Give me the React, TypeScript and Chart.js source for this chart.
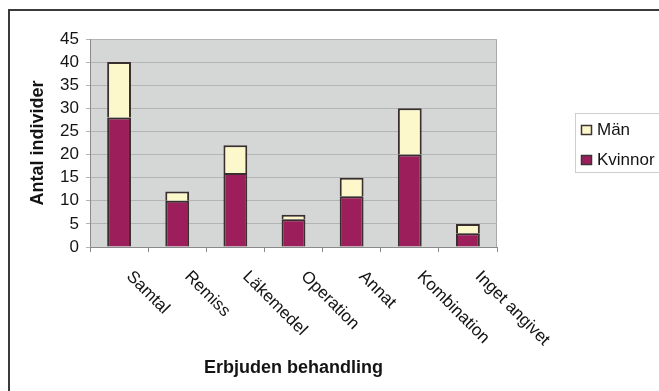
import React, { useEffect, useRef } from "react";
import { Chart, registerables } from "chart.js";

Chart.register(...registerables);

const categories = ["Samtal", "Remiss", "Läkemedel", "Operation", "Annat", "Kombination", "Inget angivet"];
const kvinnor = [28, 10, 16, 6, 11, 20, 3];
const man = [12, 2, 6, 1, 4, 10, 2];
const yTicks = { min: 0, max: 45, step: 5 };
const yTitle = "Antal individer";
const xTitle = "Erbjuden behandling";

const FONT = "'Liberation Sans', Arial, Helvetica, sans-serif";
const TEXT = "#141414";

const decorPlugin = {
  id: "decor",
  beforeDraw(chart: any) {
    const { ctx, chartArea } = chart;
    ctx.save();
    ctx.fillStyle = "#ffffff";
    ctx.fillRect(0, 0, chart.width, chart.height);
    // outer frame (top & left)
    ctx.fillStyle = "#3a3a3a";
    ctx.fillRect(8, 9, chart.width - 8, 2);
    ctx.fillRect(8, 9, 2, chart.height - 9);
    // plot background
    ctx.fillStyle = "#d5d6d6";
    ctx.fillRect(chartArea.left, chartArea.top, chartArea.right - chartArea.left, chartArea.bottom - chartArea.top);
    ctx.strokeStyle = "#a9a9a9";
    ctx.lineWidth = 1;
    ctx.beginPath();
    ctx.moveTo(chartArea.left, chartArea.top + 0.5);
    ctx.lineTo(chartArea.right - 0.5, chartArea.top + 0.5);
    ctx.lineTo(chartArea.right - 0.5, chartArea.bottom);
    ctx.stroke();
    ctx.restore();
  },
  afterDraw(chart: any) {
    const { ctx } = chart;
    const xs = chart.scales.x;
    ctx.save();
    // rotated category labels
    ctx.font = `17px ${FONT}`;
    ctx.fillStyle = TEXT;
    ctx.textAlign = "left";
    ctx.textBaseline = "middle";
    categories.forEach((c, i) => {
      const x = xs.getPixelForValue(i) + 10;
      const y = xs.top + 27;
      ctx.save();
      ctx.translate(x, y);
      ctx.rotate(Math.PI / 4);
      ctx.fillText(c, 0, 0);
      ctx.restore();
    });
    // legend
    const lx = 575.5, ly = 113.5;
    ctx.strokeStyle = "#cfcfcf";
    ctx.lineWidth = 1;
    ctx.strokeRect(lx, ly, 100, 59);
    const items = [
      { label: chart.data.datasets[1].label, color: chart.data.datasets[1].backgroundColor, cy: 130 },
      { label: chart.data.datasets[0].label, color: chart.data.datasets[0].backgroundColor, cy: 160 },
    ];
    ctx.font = `17px ${FONT}`;
    items.forEach((it) => {
      ctx.fillStyle = it.color;
      ctx.fillRect(581, it.cy - 5, 11, 10);
      ctx.strokeStyle = "#3d3333";
      ctx.lineWidth = 1.5;
      ctx.strokeRect(581.5, it.cy - 4.5, 10, 9);
      ctx.fillStyle = TEXT;
      ctx.textAlign = "left";
      ctx.textBaseline = "middle";
      ctx.fillText(it.label, 597, it.cy);
    });
    ctx.restore();
  },
};

export default function App() {
  const ref = useRef<HTMLCanvasElement | null>(null);
  useEffect(() => {
    if (!ref.current) return;
    const chart = new Chart(ref.current, {
      type: "bar",
      data: {
        labels: categories,
        datasets: [
          {
            label: "Kvinnor",
            data: kvinnor,
            backgroundColor: "#9c1f5c",
            borderColor: "#3a2f2f",
            borderWidth: 2,
            barPercentage: 0.41,
            categoryPercentage: 1,
          },
          {
            label: "Män",
            data: man,
            backgroundColor: "#fdf8cc",
            borderColor: "#3a2f2f",
            borderWidth: 2,
            barPercentage: 0.41,
            categoryPercentage: 1,
          },
        ],
      },
      options: {
        responsive: false,
        animation: false,
        devicePixelRatio: 1,
        layout: { padding: { top: 39, right: 162, bottom: 12, left: 27 } },
        plugins: { legend: { display: false }, tooltip: { enabled: false } },
        scales: {
          x: {
            stacked: true,
            grid: { offset: true, drawOnChartArea: false, drawTicks: true, tickLength: 5, color: "#8a8a8a" },
            border: { color: "#8a8a8a", width: 1 },
            ticks: { display: false },
            title: {
              display: true,
              text: xTitle,
              color: TEXT,
              padding: 0,
              font: { family: FONT, size: 18, weight: "bold" },
            },
            afterFit: (s: any) => {
              s.height = 132;
            },
          },
          y: {
            stacked: true,
            min: yTicks.min,
            max: yTicks.max,
            ticks: {
              stepSize: yTicks.step,
              autoSkip: false,
              color: TEXT,
              padding: 7,
              font: { family: FONT, size: 17 },
            },
            grid: { color: "#b4b4b4", tickLength: 4, drawTicks: true },
            border: { color: "#8a8a8a", width: 1 },
            title: {
              display: true,
              text: yTitle,
              color: TEXT,
              padding: 0,
              font: { family: FONT, size: 18, weight: "bold" },
            },
            afterFit: (s: any) => {
              s.width = 63;
            },
          },
        },
      },
      plugins: [decorPlugin],
    });
    return () => chart.destroy();
  }, []);
  return (
    <div style={{ position: "absolute", left: 0, top: 0, width: 659, height: 391 }}>
      <canvas ref={ref} width={659} height={391} style={{ display: "block" }} />
    </div>
  );
}
